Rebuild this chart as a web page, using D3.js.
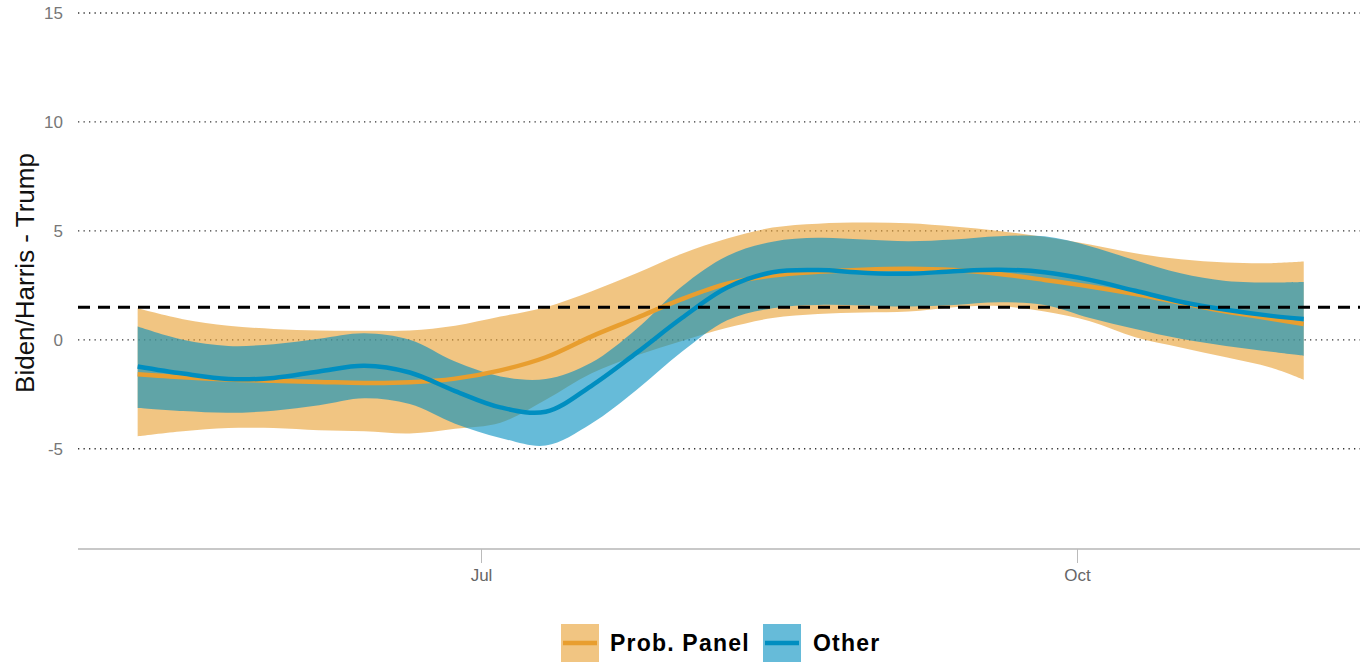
<!DOCTYPE html>
<html><head><meta charset="utf-8">
<script src="https://cdn.jsdelivr.net/npm/d3@7"></script>
<style>
html,body{margin:0;padding:0;background:#fff;}
svg{display:block;}
</style></head>
<body>
<svg id="chart" width="1360" height="662"></svg>
<script>
const dates = ["2024-05-09","2024-05-16","2024-05-23","2024-05-30","2024-06-06","2024-06-13","2024-06-20","2024-06-27",
  "2024-07-04","2024-07-11","2024-07-18","2024-07-25","2024-08-01","2024-08-08","2024-08-15","2024-08-22","2024-08-29",
  "2024-09-05","2024-09-12","2024-09-19","2024-09-26","2024-10-03","2024-10-10","2024-10-17","2024-10-24","2024-10-31","2024-11-05"];
const panelMean = [-1.58,-1.72,-1.82,-1.88,-1.93,-1.98,-1.95,-1.78,-1.4,-0.8,0.15,1.0,1.87,2.58,2.95,3.12,3.22,3.26,3.2,3.02,2.75,2.45,2.1,1.7,1.3,0.97,0.73];
const panelHi   = [1.45,0.95,0.65,0.5,0.43,0.42,0.43,0.65,1.07,1.5,2.22,3.05,3.95,4.65,5.15,5.33,5.38,5.35,5.2,5.0,4.72,4.38,3.97,3.7,3.55,3.52,3.59];
const panelLo   = [-4.43,-4.2,-4.05,-4.05,-4.15,-4.2,-4.3,-4.08,-3.8,-2.75,-1.55,-0.72,-0.05,0.55,1.0,1.18,1.25,1.3,1.5,1.55,1.3,0.85,0.12,-0.35,-0.8,-1.28,-1.83];
const otherMean = [-1.22,-1.55,-1.8,-1.75,-1.45,-1.19,-1.5,-2.35,-3.1,-3.3,-2.12,-0.6,1.0,2.4,3.1,3.2,3.08,3.03,3.15,3.22,3.1,2.75,2.25,1.75,1.38,1.1,0.96];
const otherHi   = [0.61,0.0,-0.28,-0.2,0.05,0.3,0.0,-1.0,-1.68,-1.8,-1.05,0.5,2.45,3.85,4.5,4.68,4.6,4.52,4.6,4.75,4.75,4.3,3.65,3.05,2.7,2.63,2.65];
const otherLo   = [-3.13,-3.27,-3.35,-3.25,-3.0,-2.68,-2.95,-3.85,-4.5,-4.85,-3.85,-2.3,-0.55,0.9,1.45,1.6,1.58,1.53,1.6,1.72,1.6,1.0,0.5,0.05,-0.28,-0.55,-0.73];
const yTicks = [-5,0,5,10,15];
const xTickDates = ["2024-07-01","2024-10-01"];
const refLine = 1.5;
const seriesNames = ["Prob. Panel","Other"];

const svg = d3.select("#chart");
const parse = d3.utcParse("%Y-%m-%d");
const x = d3.scaleUtc().domain([parse("2024-07-01"), parse("2024-10-01")]).range([481, 1077]);
const y = d3.scaleLinear().domain([-9.6, 15]).range([549, 13]);
const left = 78, right = 1360;

const colOrange = "#e89e2f", colBlue = "#008ec0";

// gridlines
svg.append("g").selectAll("line").data(yTicks).join("line")
  .attr("x1", left).attr("x2", right)
  .attr("y1", d => y(d)).attr("y2", d => y(d))
  .attr("stroke", "#333").attr("stroke-width", 1.3).attr("stroke-dasharray", "1.3,4.2");

// y tick labels
svg.append("g").selectAll("text").data(yTicks).join("text")
  .attr("x", 63).attr("y", d => y(d)).attr("dy", "0.35em")
  .attr("text-anchor", "end")
  .style("font-family", "'Liberation Sans', Arial, sans-serif").style("font-size", "17px").style("fill", "#777")
  .text(d => d);

// y title
svg.append("text")
  .attr("transform", "translate(34,273) rotate(-90)")
  .attr("text-anchor", "middle")
  .style("font-family", "'Liberation Sans', Arial, sans-serif").style("font-size", "26px").style("fill", "#111")
  .text("Biden/Harris - Trump");

// x axis
svg.append("line").attr("x1", left).attr("x2", right).attr("y1", y(-9.6)).attr("y2", y(-9.6))
  .attr("stroke", "#c8c8c8").attr("stroke-width", 2);
const xAxis = d3.axisBottom(x).tickValues(xTickDates.map(parse)).tickFormat(d3.utcFormat("%b")).tickSize(14).tickPadding(6);
const gx = svg.append("g").attr("transform", `translate(0,${y(-9.6)})`).call(xAxis);
gx.select(".domain").remove();
gx.selectAll(".tick line").attr("stroke", "#bbb");
gx.selectAll(".tick text").style("font-family", "'Liberation Sans Narrow', 'Arial Narrow', sans-serif")
  .style("font-size", "17px").style("fill", "#666");

const data = dates.map((d, i) => ({
  date: parse(d),
  pm: panelMean[i], pl: panelLo[i], ph: panelHi[i],
  om: otherMean[i], ol: otherLo[i], oh: otherHi[i]
}));
const curve = d3.curveCatmullRom.alpha(0.5);
const areaP = d3.area().x(d => x(d.date)).y0(d => y(d.pl)).y1(d => y(d.ph)).curve(curve);
const areaO = d3.area().x(d => x(d.date)).y0(d => y(d.ol)).y1(d => y(d.oh)).curve(curve);
const lineP = d3.line().x(d => x(d.date)).y(d => y(d.pm)).curve(curve);
const lineO = d3.line().x(d => x(d.date)).y(d => y(d.om)).curve(curve);

svg.append("path").datum(data).attr("d", areaP).attr("fill", colOrange).attr("fill-opacity", 0.6);
svg.append("path").datum(data).attr("d", areaO).attr("fill", colBlue).attr("fill-opacity", 0.6);
svg.append("path").datum(data).attr("d", lineP).attr("fill", "none").attr("stroke", colOrange).attr("stroke-width", 4.5);
svg.append("path").datum(data).attr("d", lineO).attr("fill", "none").attr("stroke", colBlue).attr("stroke-width", 4.5);

// reference dashed line
svg.append("line").attr("x1", left).attr("x2", right).attr("y1", y(refLine)).attr("y2", y(refLine))
  .attr("stroke", "#000").attr("stroke-width", 3).attr("stroke-dasharray", "12,8");

// legend
const legend = svg.append("g");
const legItems = [
  {name: seriesNames[0], col: colOrange, bx: 561, tx: 610},
  {name: seriesNames[1], col: colBlue, bx: 763, tx: 813}
];
legItems.forEach(it => {
  legend.append("rect").attr("x", it.bx).attr("y", 624).attr("width", 38).attr("height", 40)
    .attr("fill", it.col).attr("fill-opacity", 0.6);
  legend.append("line").attr("x1", it.bx + 2).attr("x2", it.bx + 36).attr("y1", 643).attr("y2", 643)
    .attr("stroke", it.col).attr("stroke-width", 4.5);
  legend.append("text").attr("x", it.tx).attr("y", 651)
    .style("font-family", "'Liberation Sans', Arial, sans-serif").style("font-weight", "bold")
    .style("font-size", "23px").style("letter-spacing", "1.2px").style("fill", "#000")
    .text(it.name);
});
</script>
</body></html>
